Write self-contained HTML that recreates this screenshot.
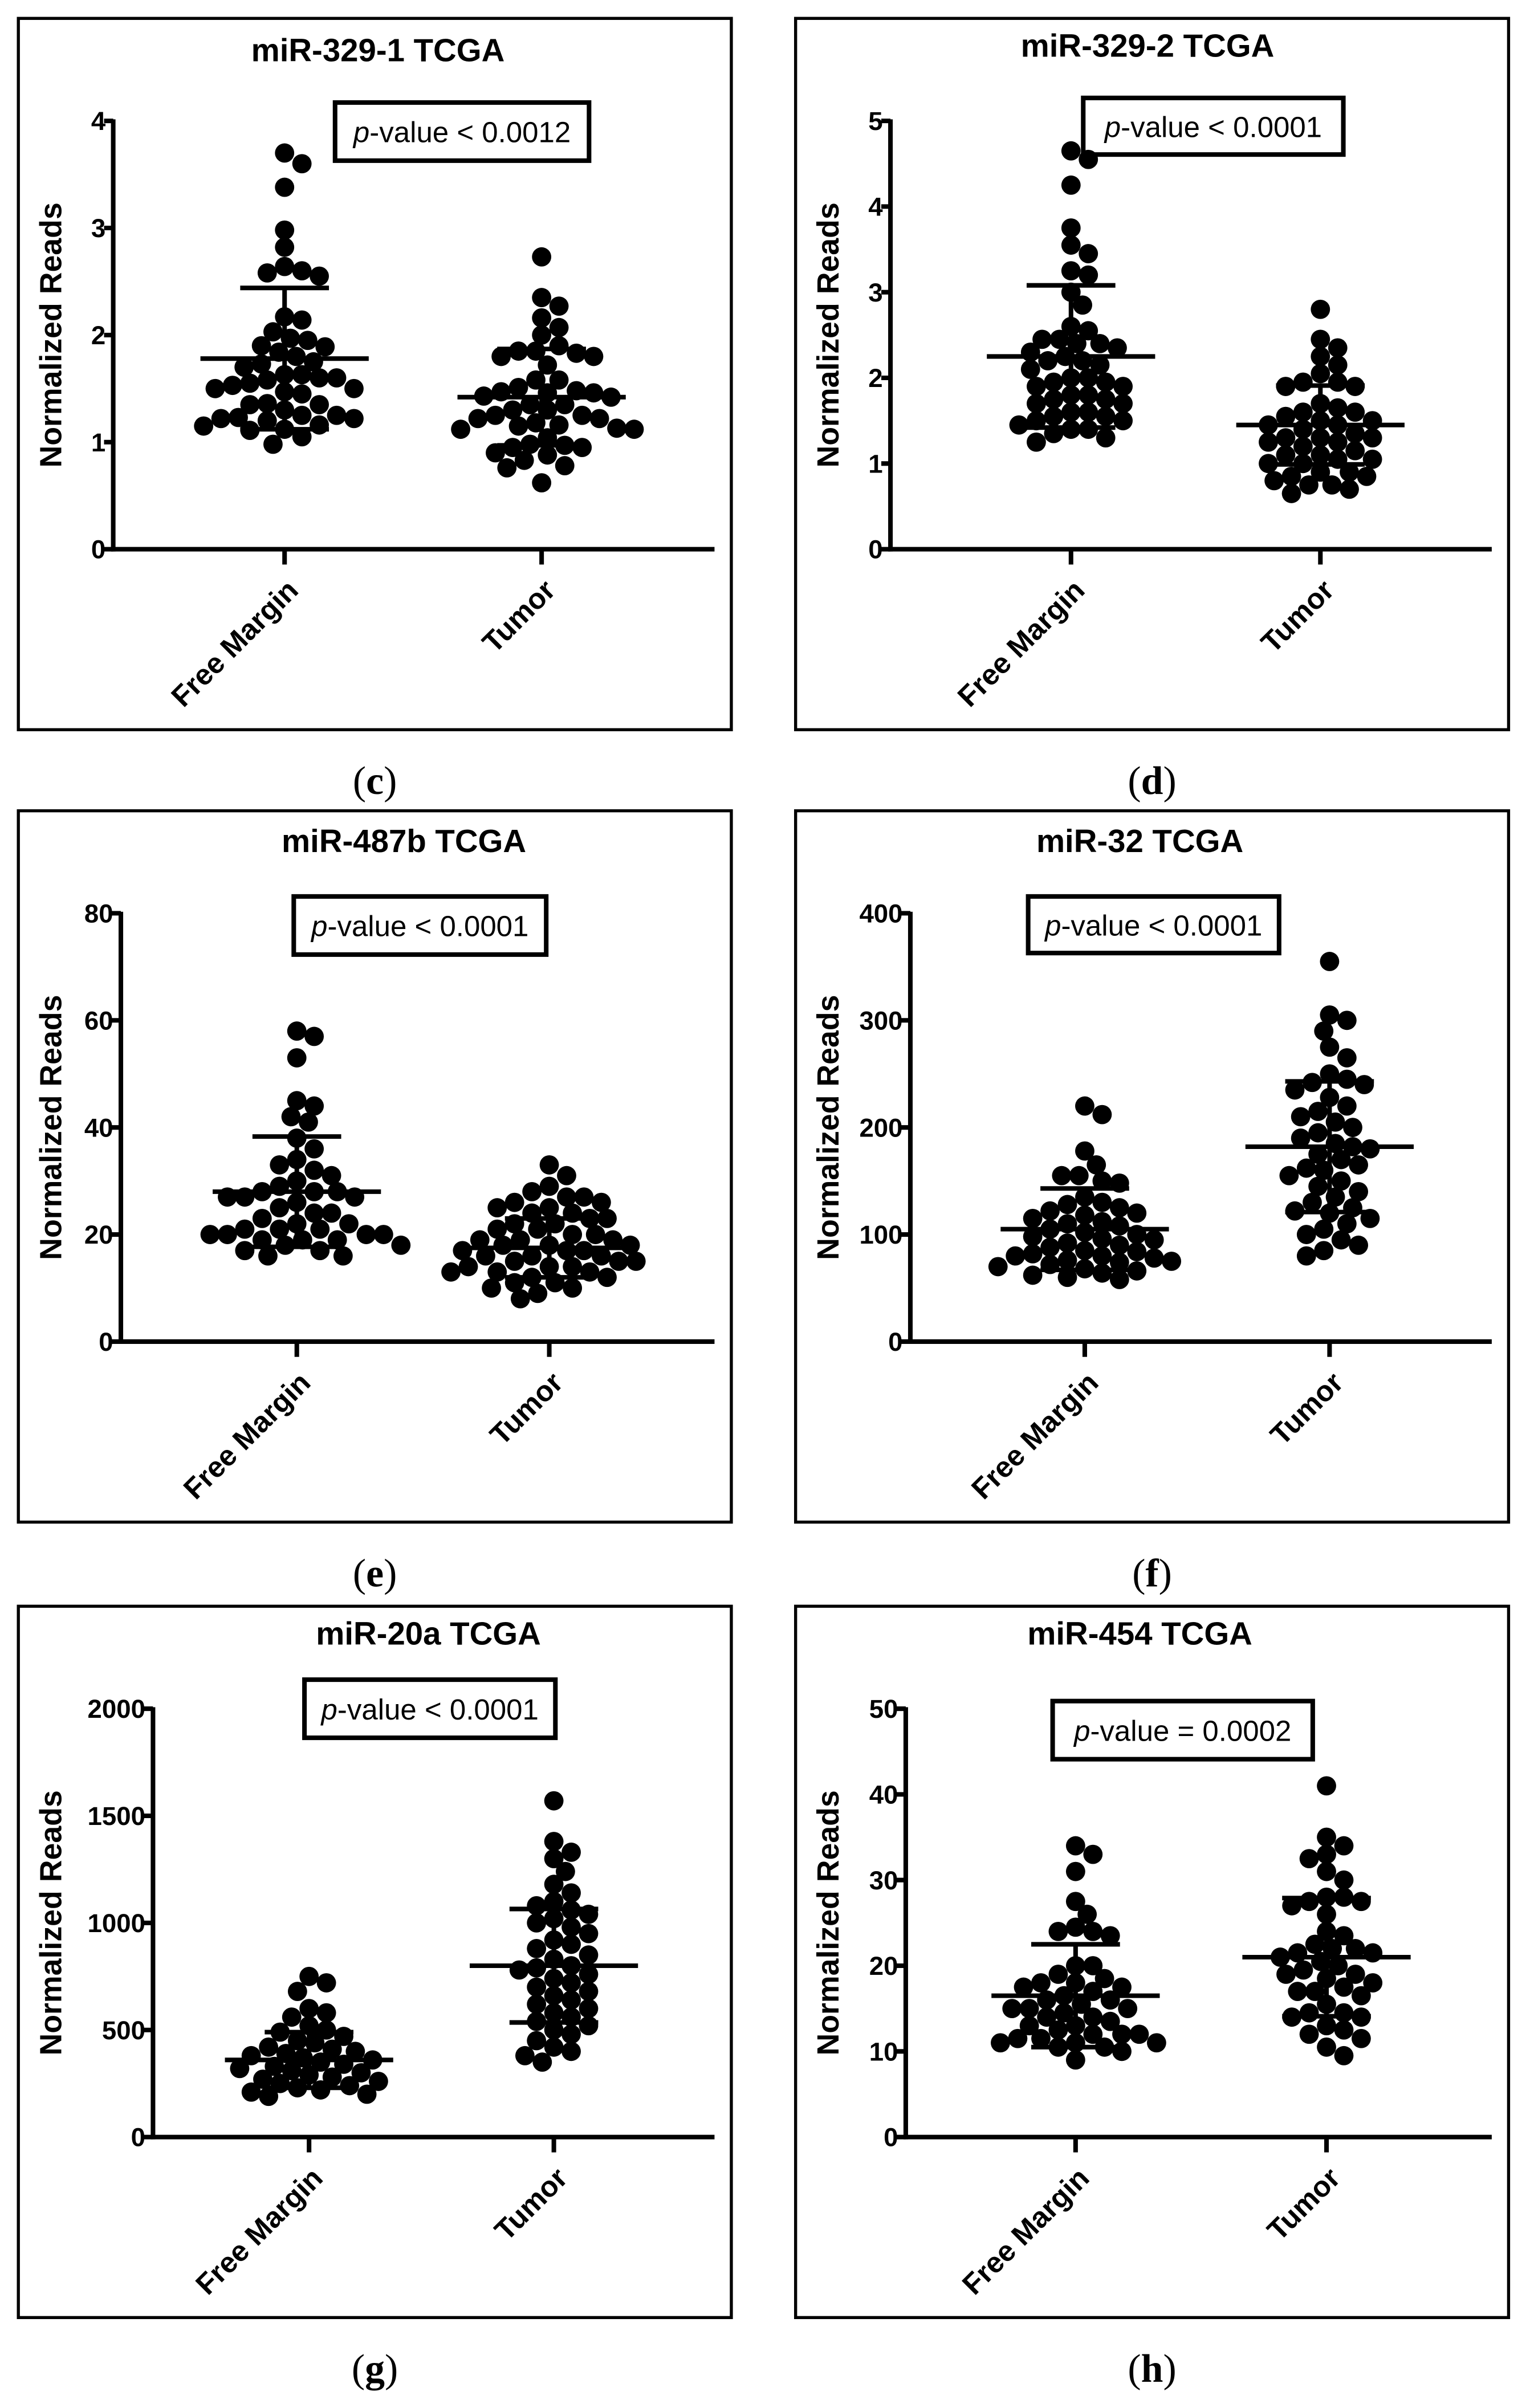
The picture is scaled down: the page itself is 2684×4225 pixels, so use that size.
<!DOCTYPE html>
<html><head><meta charset="utf-8"><style>
html,body{margin:0;padding:0;background:#fff;}
svg{display:block;}
text{font-family:"Liberation Sans",Arial,sans-serif;fill:#000;}
</style></head><body>
<svg id="fig" xmlns="http://www.w3.org/2000/svg" width="2684" height="4225" viewBox="0 0 1000 1574.1"></svg>
<script>
const categories = ["Free Margin","Tumor"];
const panelIds = ["c","d","e","f","g","h"];
const titles = ["miR-329-1 TCGA","miR-329-2 TCGA","miR-487b TCGA","miR-32 TCGA","miR-20a TCGA","miR-454 TCGA"];
const pTexts = ["-value < 0.0012","-value < 0.0001","-value < 0.0001","-value < 0.0001","-value < 0.0001","-value = 0.0002"];
const yMax = [4,5,80,400,2000,50];
const yTicks = [[0,1,2,3,4],[0,1,2,3,4,5],[0,20,40,60,80],[0,100,200,300,400],[0,500,1000,1500,2000],[0,10,20,30,40,50]];
const fmValues = [
 [3.7,3.6,3.38,2.98,2.82,2.64,2.58,2.55,2.6,2.17,2.14,2.03,1.97,1.9,1.84,1.75,1.73,1.8,1.89,1.95,1.7,1.63,1.6,1.53,1.5,1.45,1.47,1.5,1.55,1.58,1.6,1.63,1.36,1.35,1.25,1.22,1.23,1.25,1.3,1.35,1.2,1.15,1.11,1.12,1.16,1.22,0.98,1.05],
 [4.65,4.55,4.25,3.75,3.55,3.45,3.25,3.2,3.0,2.85,2.6,2.55,2.45,2.4,2.35,2.4,2.45,2.3,2.2,2.15,2.1,2.2,2.25,2.0,1.95,1.9,1.9,1.95,2.0,1.8,1.75,1.7,1.7,1.75,1.8,1.6,1.55,1.5,1.5,1.55,1.6,1.4,1.35,1.3,1.4,1.45,1.25],
 [58,57,53,45,44,42,41,38,36,34,33,32,31,30,29,28,28,27,26,27,25,24,24,23,22,22,21,21,21,20,20,20,20,19,19,19,18,18,17,17,16,16,28,27],
 [220,212,178,165,155,155,150,148,135,130,128,125,122,120,118,115,112,110,108,105,102,100,98,96,95,92,90,88,85,84,82,80,80,78,76,75,74,72,70,68,66,64,62,60,58],
 [750,720,680,600,580,560,520,500,490,470,450,440,420,410,400,390,380,370,360,350,340,330,320,310,300,290,280,270,260,250,240,230,220,210,200,190],
 [34,33,31,27.5,26,24.5,24,24,23.5,20,20,19,18.5,18,18,17.5,17.5,17,16.5,16,16,15.5,15,15,15,14.5,14,14,13.5,13,13,12.5,12,12,12,11.5,11.5,11,11,11,10.5,10.5,10,9]
];
const tuValues = [
 [2.73,2.35,2.27,2.16,2.07,2.0,1.9,1.85,1.8,1.72,1.8,1.83,1.85,1.58,1.48,1.46,1.43,1.42,1.46,1.47,1.51,1.58,1.35,1.3,1.25,1.22,1.16,1.13,1.12,1.15,1.18,1.22,1.25,1.3,1.35,1.12,1.04,0.98,0.95,0.9,0.88,0.95,0.97,0.78,0.76,0.83,0.62],
 [2.8,2.45,2.35,2.25,2.15,2.05,1.95,1.9,1.9,1.95,1.7,1.65,1.6,1.6,1.55,1.5,1.45,1.4,1.45,1.5,1.35,1.3,1.3,1.25,1.2,1.25,1.3,1.15,1.1,1.05,1.0,1.0,1.05,1.1,0.9,0.85,0.8,0.85,0.9,0.75,0.7,0.65,0.75],
 [33,31,29,28,27,27,26,26,25,25,24,24,23,23,22,22,21,21,20,20,19,19,19,18,18,18,17,17,17,16,16,16,15,15,15,14,14,14,13,13,13,12,12,11,11,10,10,9,8],
 [355,305,300,290,275,265,250,245,242,240,235,228,220,215,210,205,200,195,190,185,182,180,175,170,165,162,160,155,150,145,140,135,130,125,122,120,115,110,105,100,95,90,85,80],
 [1570,1380,1330,1300,1240,1180,1140,1100,1080,1060,1040,1020,1000,980,950,920,900,880,850,830,800,790,780,760,740,720,700,680,660,640,620,600,580,560,540,520,500,480,450,420,400,380,350],
 [41,35,34,33,32.5,31,30,28,28,27.5,27.5,27,26,24,23.5,22.5,22,22,21.5,21.5,21,20.5,20,19.5,19,19,18.5,18,17.5,17,17,16.5,15.5,14.5,14.5,14,14,13,12.5,12,11.5,10.5,9.5]
];
const fmMean = [1.78,2.25,28,105,360,16.5];
const fmSd = [0.66,0.83,10.3,38,130,6];
const tuMean = [1.42,1.45,17.5,182,800,21];
const tuSd = [0.45,0.46,5.5,61,265,6.9];

const NS="http://www.w3.org/2000/svg";
const svg=document.getElementById('fig');
function mk(tag,attrs,parent){const e=document.createElementNS(NS,tag);for(const k in attrs)e.setAttribute(k,attrs[k]);(parent||svg).appendChild(e);return e;}
const origins=[[12,12],[520,12],[12,530],[520,530],[12,1050],[520,1050]];
const pBox=[[207,55,166,38],[188,52,170,37],[180,56,165,38],[152,56,164,37],[187,48,164,38],[168,62,170,38]];
const titleY=[28,25,27,27,25,25];
const titleX=[235,230,252,225,268,225];
const axisX=[62,62,67,75,88,72];
const catX=[[174,342],[180,343],[182,347],[189,349],[190,350],[183,347]];
const R=6.3;

for(let p=0;p<6;p++){
  const [ox,oy]=origins[p];
  const g=mk('g',{transform:`translate(${ox},${oy})`});
  
  
  const frame=mk('rect',{x:0,y:0,width:466,height:465,fill:'none',stroke:'#000','stroke-width':2},g);
  
  
  const t=mk('text',{x:titleX[p],y:titleY[p],'text-anchor':'middle','font-size':21,'font-weight':'bold'},g);
  t.textContent=titles[p];
  
  
  const [bx,by,bw,bh]=pBox[p];
  const pr=mk('rect',{x:bx,y:by,width:bw,height:bh,fill:'#fff',stroke:'#000','stroke-width':3},g);
  
  
  const pt=mk('text',{x:bx+bw/2,y:by+bh/2+7,'text-anchor':'middle','font-size':19},g);
  
  
  const it=mk('tspan',{'font-style':'italic'},pt);it.textContent='p';
  const rt=mk('tspan',{},pt);rt.textContent=pTexts[p];
  const ax0=axisX[p], top=67, zero=347, xEnd=455, cx=catX[p];
  const yS=v=>zero-(v/yMax[p])*(zero-top);
  const ya=mk('line',{x1:ax0,y1:top-1,x2:ax0,y2:zero+1.5,stroke:'#000','stroke-width':3},g);
  
  
  const xa=mk('line',{x1:ax0-1.5,y1:zero,x2:xEnd,y2:zero,stroke:'#000','stroke-width':3},g);
  
  
  yTicks[p].forEach(v=>{
    const y=yS(v);
    const tk=mk('line',{x1:ax0-6,y1:y,x2:ax0,y2:y,stroke:'#000','stroke-width':3},g);
    
    
    const tl=mk('text',{x:ax0-5,y:y+6,'text-anchor':'end','font-size':17,'font-weight':'bold'},g);
    tl.textContent=v;
    
    
  });
  const yl=mk('text',{x:0,y:0,transform:`translate(28,${(top+zero)/2}) rotate(-90)`,'text-anchor':'middle','font-size':20,'font-weight':'bold'},g);
  yl.textContent='Normalized Reads';
  
  
  categories.forEach((c,i)=>{
    const tk=mk('line',{x1:cx[i],y1:zero,x2:cx[i],y2:zero+10,stroke:'#000','stroke-width':3},g);
    
    
    const cl=mk('text',{x:0,y:0,transform:`translate(${cx[i]+10},${zero+28}) rotate(-45)`,'text-anchor':'end','font-size':19,'font-weight':'bold'},g);
    cl.textContent=c;
    
    
  });
  [[fmValues[p],fmMean[p],fmSd[p]],[tuValues[p],tuMean[p],tuSd[p]]].forEach(([vals,m,sd],i)=>{
    const placed=[];
    [...vals].sort((a,b)=>b-a).forEach(v=>{
      const y=yS(v);let dx=0;
      for(let k=0;k<60;k++){
        const off=(k%2?1:-1)*Math.ceil(k/2)*R*0.6;
        if(placed.every(q=>Math.hypot(q[0]-off,q[1]-y)>=2*R*0.88)){dx=off;break;}
      }
      placed.push([dx,y]);
      const d=mk('circle',{cx:cx[i]+dx,cy:y,r:R,fill:'#000'},g);
      
      
    });
    const ym=yS(m), yh=yS(m+sd), ylo=yS(m-sd);
    const ml=mk('line',{x1:cx[i]-55,y1:ym,x2:cx[i]+55,y2:ym,stroke:'#000','stroke-width':3},g);
    
    
    const vl=mk('line',{x1:cx[i],y1:yh,x2:cx[i],y2:ylo,stroke:'#000','stroke-width':3},g);
    
    
    [yh,ylo].forEach(yy=>{
      const cp=mk('line',{x1:cx[i]-29,y1:yy,x2:cx[i]+29,y2:yy,stroke:'#000','stroke-width':3},g);
      
      
    });
  });
  const lab=mk('text',{x:ox+233,y:oy+507,'text-anchor':'middle','font-size':26,style:'font-family:"Liberation Serif",serif'});
  
  
  const a=mk('tspan',{},lab);a.textContent='(';
  const b=mk('tspan',{'font-weight':'bold'},lab);b.textContent=panelIds[p];
  const c2=mk('tspan',{},lab);c2.textContent=')';
}
</script>
</body></html>
